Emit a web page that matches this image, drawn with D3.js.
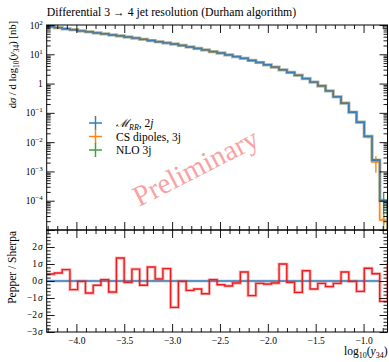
<!DOCTYPE html>
<html>
<head>
<meta charset="utf-8">
<script src="https://cdn.jsdelivr.net/npm/d3@7"></script>
<style>
  body { margin: 0; background: #fff; }
  text { font-family: "Liberation Serif", "DejaVu Serif", serif; fill: #000; }
</style>
</head>
<body>
<div id="chart"></div>
<script>
// chart data, one entry per log10(y34) bin (last entry sits just past the frame)
var xStart = -4.31;
var xEnd = -0.75;
var nBins = 44;

var mrrValues = [87.1, 81.3, 74.1, 69.2, 63.1, 58.9, 53.7, 50.1, 45.7, 42.7,
  38.9, 35.5, 32.4, 29.5, 26.9, 24.5, 22.4, 20.0, 17.8, 15.8,
  14.1, 12.3, 11.0, 9.55, 8.32, 7.24, 6.17, 5.25, 4.37, 3.63,
  2.95, 2.40, 1.91, 1.48, 1.12, 0.832, 0.562, 0.355, 0.214, 0.105,
  0.0479, 0.0158, 0.0024, 1.0e-4, 1e-7];
var mrrErrors = [0.3, 0.3, 0.3, 0.3, 0.2, 0.2, 0.2, 0.2, 0.2, 0.2,
  0.1, 0.1, 0.1, 0.1, 0.1, 0.1, 0.1, 0.1, 0.1, 0.1,
  0.05, 0.05, 0.05, 0.04, 0.04, 0.03, 0.03, 0.02, 0.02, 0.02,
  0.01, 0.01, 0.01, 0.008, 0.006, 0.005, 0.004, 0.003, 0.002, 0.001,
  0.0006, 0.0003, 0.0001, 1e-5, 0];

var csValues = [87.3, 81.0, 74.4, 69.0, 63.3, 58.7, 53.9, 50.0, 45.9, 42.5,
  39.1, 35.4, 32.5, 29.3, 27.0, 24.4, 22.5, 19.9, 17.9, 15.7,
  14.2, 12.2, 11.1, 9.50, 8.36, 7.20, 6.20, 5.22, 4.40, 3.60,
  2.97, 2.38, 1.93, 1.46, 1.13, 0.820, 0.568, 0.350, 0.216, 0.102,
  0.0470, 0.0152, 0.0021, 2.2e-5, 1e-7];
var csErrors = [0.3, 0.3, 0.3, 0.3, 0.2, 0.2, 0.2, 0.2, 0.2, 0.2,
  0.1, 0.1, 0.1, 0.1, 0.1, 0.1, 0.1, 0.1, 0.1, 0.1,
  0.05, 0.05, 0.05, 0.04, 0.04, 0.03, 0.03, 0.02, 0.02, 0.02,
  0.01, 0.01, 0.01, 0.008, 0.006, 0.005, 0.004, 0.004, 0.003, 0.003,
  0.002, 0.0015, 0.0012, 1.2e-5, 0];

var nloValues = [87.0, 81.2, 74.2, 69.3, 63.0, 58.8, 53.6, 50.2, 45.6, 42.8,
  38.8, 35.6, 32.3, 29.6, 26.8, 24.6, 22.3, 20.1, 17.7, 15.9,
  14.0, 12.4, 10.9, 9.60, 8.30, 7.28, 6.14, 5.28, 4.34, 3.66,
  2.93, 2.42, 1.90, 1.50, 1.11, 0.840, 0.558, 0.358, 0.212, 0.107,
  0.0484, 0.0160, 0.0025, 1.05e-4, 1e-7];
var nloErrors = [0.3, 0.3, 0.3, 0.3, 0.2, 0.2, 0.2, 0.2, 0.2, 0.2,
  0.1, 0.1, 0.1, 0.1, 0.1, 0.1, 0.1, 0.1, 0.1, 0.1,
  0.05, 0.05, 0.05, 0.04, 0.04, 0.03, 0.03, 0.02, 0.02, 0.02,
  0.01, 0.01, 0.01, 0.008, 0.006, 0.005, 0.004, 0.003, 0.002, 0.001,
  0.0006, 0.0003, 0.0002, 9e-5, 0];

// Pepper / Sherpa deviation in units of sigma
var pullValues = [0.41, 0.47, 0.67, -0.51, -0.02, -0.71, -0.25, 0.08, -0.65, 1.35,
  -0.08, 0.70, -0.25, 0.82, 0.12, 0.73, -1.55, -0.02, -0.55, -0.47,
  -0.75, 0.08, -0.22, -0.29, -0.12, 0.53, -0.86, -0.14, -0.18, -0.12,
  1.00, -0.08, -0.67, 0.60, -0.47, -0.14, -0.33, -0.14, 0.53, -0.02,
  -0.61, 0.75, 0.43, -1.20, 1.00];

var decadeTicks = [1e-5, 1e-4, 1e-3, 1e-2, 1e-1, 1, 1e1, 1e2];
var decadeLabels = [null, ["10", "\u22124"], ["10", "\u22123"], ["10", "\u22122"], ["10", "\u22121"], ["1", ""], ["10", "1"], ["10", "2"]];
var sigmaTicks = [-3, -2, -1, 0, 1, 2];
var xMajorTicks = [-4.0, -3.5, -3.0, -2.5, -2.0, -1.5, -1.0];

var colors = {mrr: "#3b7db5", cs: "#ff8418", nlo: "#3ca23c", pull: "#ee1c1c"};

var svgWidth = 389;
var svgHeight = 362;
var plotLeft = 46.7, plotRight = 387.5;
var topY = 25, midY = 230, botY = 332;

var svg = d3.select("#chart")
  .append("svg")
  .attr("width", svgWidth)
  .attr("height", svgHeight);

var binWidth = (xEnd - xStart) / nBins;
var edges = d3.range(mrrValues.length + 1).map(i => xStart + i * binWidth);

var x = d3.scaleLinear().domain([xStart, xEnd]).range([plotLeft, plotRight]);
var yTop = d3.scaleLog().domain([1e-5, 1e2]).range([midY, topY]);
var yPull = d3.scaleLinear().domain([-3, 3]).range([botY, midY]);

// clip paths for both panels
var defs = svg.append("defs");
defs.append("clipPath").attr("id", "clipTop").append("rect")
  .attr("x", plotLeft).attr("y", topY).attr("width", plotRight - plotLeft).attr("height", midY - topY);
defs.append("clipPath").attr("id", "clipBot").append("rect")
  .attr("x", plotLeft).attr("y", midY).attr("width", plotRight - plotLeft).attr("height", botY - midY);

function stepPoints(values) {
  var pts = values.map((v, i) => [edges[i], v]);
  pts.push([edges[values.length], values[values.length - 1]]);
  return pts;
}

var topLine = d3.line()
  .x(d => x(d[0]))
  .y(d => yTop(Math.max(d[1], 1e-9)))
  .curve(d3.curveStepAfter);

var pullLine = d3.line()
  .x(d => x(d[0]))
  .y(d => yPull(d[1]))
  .curve(d3.curveStepAfter);

// title
svg.append("text")
  .attr("x", plotLeft)
  .attr("y", 16)
  .attr("font-size", 11.75)
  .text("Differential 3 \u2192 4 jet resolution (Durham algorithm)");

// watermark
svg.append("text")
  .attr("transform", "translate(200,176) rotate(-27)")
  .attr("text-anchor", "middle")
  .attr("font-size", 29)
  .style("fill", "#f7a3a3")
  .text("Preliminary");

// top panel histograms
var topGroup = svg.append("g").attr("clip-path", "url(#clipTop)");

function drawSeries(values, errors, color) {
  topGroup.append("path")
    .attr("d", topLine(stepPoints(values)))
    .attr("fill", "none")
    .attr("stroke", color)
    .attr("stroke-opacity", 0.25)
    .attr("stroke-width", 3.2);
  topGroup.append("path")
    .attr("d", topLine(stepPoints(values)))
    .attr("fill", "none")
    .attr("stroke", color)
    .attr("stroke-width", 1.4);
  topGroup.selectAll(null)
    .data(values.slice(0, nBins))
    .enter()
    .append("line")
    .attr("x1", (d, i) => x(edges[i] + binWidth / 2))
    .attr("x2", (d, i) => x(edges[i] + binWidth / 2))
    .attr("y1", (d, i) => yTop(Math.max(d - errors[i], 1e-9)))
    .attr("y2", (d, i) => yTop(d + errors[i]))
    .attr("stroke", color)
    .attr("stroke-width", 1.4);
}

drawSeries(nloValues, nloErrors, colors.nlo);
drawSeries(csValues, csErrors, colors.cs);
drawSeries(mrrValues, mrrErrors, colors.mrr);

// ratio panel
var botGroup = svg.append("g").attr("clip-path", "url(#clipBot)");

botGroup.append("line")
  .attr("x1", x(xStart)).attr("x2", x(edges[nBins - 1]))
  .attr("y1", yPull(0)).attr("y2", yPull(0))
  .attr("stroke", colors.mrr).attr("stroke-opacity", 0.3).attr("stroke-width", 3.2);
botGroup.append("line")
  .attr("x1", x(xStart)).attr("x2", x(edges[nBins - 1]))
  .attr("y1", yPull(0)).attr("y2", yPull(0))
  .attr("stroke", colors.mrr).attr("stroke-width", 1.4);

botGroup.append("path")
  .attr("d", pullLine(stepPoints(pullValues)))
  .attr("fill", "none")
  .attr("stroke", colors.pull)
  .attr("stroke-opacity", 0.3)
  .attr("stroke-width", 3.2);
botGroup.append("path")
  .attr("d", pullLine(stepPoints(pullValues)))
  .attr("fill", "none")
  .attr("stroke", colors.pull)
  .attr("stroke-width", 1.4);

// axes: all ticks point inward
var xMinorTicks = d3.range(-43, -7).map(d => d / 10).filter(d => xMajorTicks.indexOf(d) < 0);
var logMinor = [];
decadeTicks.slice(0, -1).forEach(function(dec) {
  for (var k = 2; k <= 9; k++) logMinor.push(dec * k);
});
var sigmaMinor = d3.range(-15, 15).map(d => d / 5).filter(d => Math.abs(d - Math.round(d)) > 0.01);

function addAxis(axis, tx, ty) {
  var g = svg.append("g")
    .attr("transform", `translate(${tx},${ty})`)
    .call(axis);
  g.select(".domain").remove();
  g.selectAll("line").attr("stroke-width", 0.9);
  return g;
}

// x ticks along each horizontal edge
addAxis(d3.axisTop(x).tickValues(xMajorTicks).tickSize(-8).tickFormat(""), 0, topY);
addAxis(d3.axisTop(x).tickValues(xMinorTicks).tickSize(-4).tickFormat(""), 0, topY);
addAxis(d3.axisBottom(x).tickValues(xMajorTicks).tickSize(-8).tickFormat(""), 0, midY);
addAxis(d3.axisBottom(x).tickValues(xMinorTicks).tickSize(-4).tickFormat(""), 0, midY);
addAxis(d3.axisTop(x).tickValues(xMajorTicks).tickSize(-8).tickFormat(""), 0, midY);
addAxis(d3.axisTop(x).tickValues(xMinorTicks).tickSize(-4).tickFormat(""), 0, midY);
var xAxisBottom = addAxis(d3.axisBottom(x).tickValues(xMajorTicks).tickSize(-8).tickPadding(5).tickFormat(d3.format(".1f")), 0, botY);
xAxisBottom.selectAll("text").attr("font-size", 9.5).attr("font-family", "Liberation Serif");
addAxis(d3.axisBottom(x).tickValues(xMinorTicks).tickSize(-4).tickFormat(""), 0, botY);

// log y ticks on both sides
addAxis(d3.axisLeft(yTop).tickValues(decadeTicks).tickSize(-8).tickFormat(""), plotLeft, 0);
addAxis(d3.axisLeft(yTop).tickValues(logMinor).tickSize(-4).tickFormat(""), plotLeft, 0);
addAxis(d3.axisRight(yTop).tickValues(decadeTicks).tickSize(-8).tickFormat(""), plotRight, 0);
addAxis(d3.axisRight(yTop).tickValues(logMinor).tickSize(-4).tickFormat(""), plotRight, 0);

decadeTicks.forEach(function(t, i) {
  var lab = decadeLabels[i];
  if (!lab) return;
  var txt = svg.append("text")
    .attr("x", plotLeft - 4)
    .attr("y", yTop(t) + 3.5)
    .attr("text-anchor", "end")
    .attr("font-size", 9.5);
  txt.append("tspan").text(lab[0]);
  if (lab[1]) {
    txt.append("tspan").attr("dy", -4).attr("font-size", 7).text(lab[1]);
  }
});

// sigma ticks
addAxis(d3.axisLeft(yPull).tickValues(sigmaTicks).tickSize(-8).tickFormat(""), plotLeft, 0);
addAxis(d3.axisLeft(yPull).tickValues(sigmaMinor).tickSize(-4).tickFormat(""), plotLeft, 0);
addAxis(d3.axisRight(yPull).tickValues(sigmaTicks).tickSize(-8).tickFormat(""), plotRight, 0);
addAxis(d3.axisRight(yPull).tickValues(sigmaMinor).tickSize(-4).tickFormat(""), plotRight, 0);

sigmaTicks.forEach(function(t) {
  var txt = svg.append("text")
    .attr("x", plotLeft - 4)
    .attr("y", yPull(t) + 3.3)
    .attr("text-anchor", "end")
    .attr("font-size", 9.5);
  txt.append("tspan").text(t < 0 ? "\u2212" + (-t) : "" + t);
  txt.append("tspan").attr("font-style", "italic").attr("dx", 1).text("\u03c3");
});

// frames
[[topY, midY], [midY, botY]].forEach(function(r) {
  svg.append("rect")
    .attr("x", plotLeft).attr("y", r[0])
    .attr("width", plotRight - plotLeft).attr("height", r[1] - r[0])
    .attr("fill", "none").attr("stroke", "#000").attr("stroke-width", 1);
});

// axis labels
var yLab = svg.append("text")
  .attr("transform", `translate(16,${topY - 4}) rotate(-90)`)
  .attr("text-anchor", "end")
  .attr("font-size", 10.6);
yLab.append("tspan").text("d");
yLab.append("tspan").attr("font-style", "italic").text("\u03c3");
yLab.append("tspan").text(" / d log");
yLab.append("tspan").attr("font-size", 7.5).attr("dy", 2.5).text("10");
yLab.append("tspan").attr("dy", -2.5).text("(");
yLab.append("tspan").attr("font-style", "italic").text("y");
yLab.append("tspan").attr("font-size", 7.5).attr("dy", 2.5).text("34");
yLab.append("tspan").attr("dy", -2.5).text(") [nb]");

svg.append("text")
  .attr("transform", `translate(16,${midY + 1}) rotate(-90)`)
  .attr("text-anchor", "end")
  .attr("font-size", 11.5)
  .text("Pepper / Sherpa");

var xLab = svg.append("text")
  .attr("x", plotRight)
  .attr("y", 355)
  .attr("text-anchor", "end")
  .attr("font-size", 11.5);
xLab.append("tspan").text("log");
xLab.append("tspan").attr("font-size", 8).attr("dy", 2.5).text("10");
xLab.append("tspan").attr("dy", -2.5).text("(");
xLab.append("tspan").attr("font-style", "italic").text("y");
xLab.append("tspan").attr("font-size", 8).attr("dy", 2.5).text("34");
xLab.append("tspan").attr("dy", -2.5).text(")");

// legend
var legendItems = [
  {key: "mrr", y: 123},
  {key: "cs", y: 136.5},
  {key: "nlo", y: 150}
];
legendItems.forEach(function(item) {
  var c = colors[item.key];
  svg.append("line").attr("x1", 89).attr("x2", 102).attr("y1", item.y).attr("y2", item.y)
    .attr("stroke", c).attr("stroke-width", 1.5);
  svg.append("line").attr("x1", 95.5).attr("x2", 95.5).attr("y1", item.y - 7).attr("y2", item.y + 7)
    .attr("stroke", c).attr("stroke-width", 1.5);
});
var l1 = svg.append("text").attr("x", 116).attr("y", 127).attr("font-size", 11.5);
l1.append("tspan").attr("font-style", "italic").text("\u2133");
l1.append("tspan").attr("font-style", "italic").attr("font-size", 8).attr("dy", 2.5).text("RR");
l1.append("tspan").attr("dy", -2.5).text(", 2");
l1.append("tspan").attr("font-style", "italic").text("j");
svg.append("text").attr("x", 116).attr("y", 140.5).attr("font-size", 11.5).text("CS dipoles, 3j");
svg.append("text").attr("x", 116).attr("y", 154).attr("font-size", 11.5).text("NLO 3j");
</script>
</body>
</html>
